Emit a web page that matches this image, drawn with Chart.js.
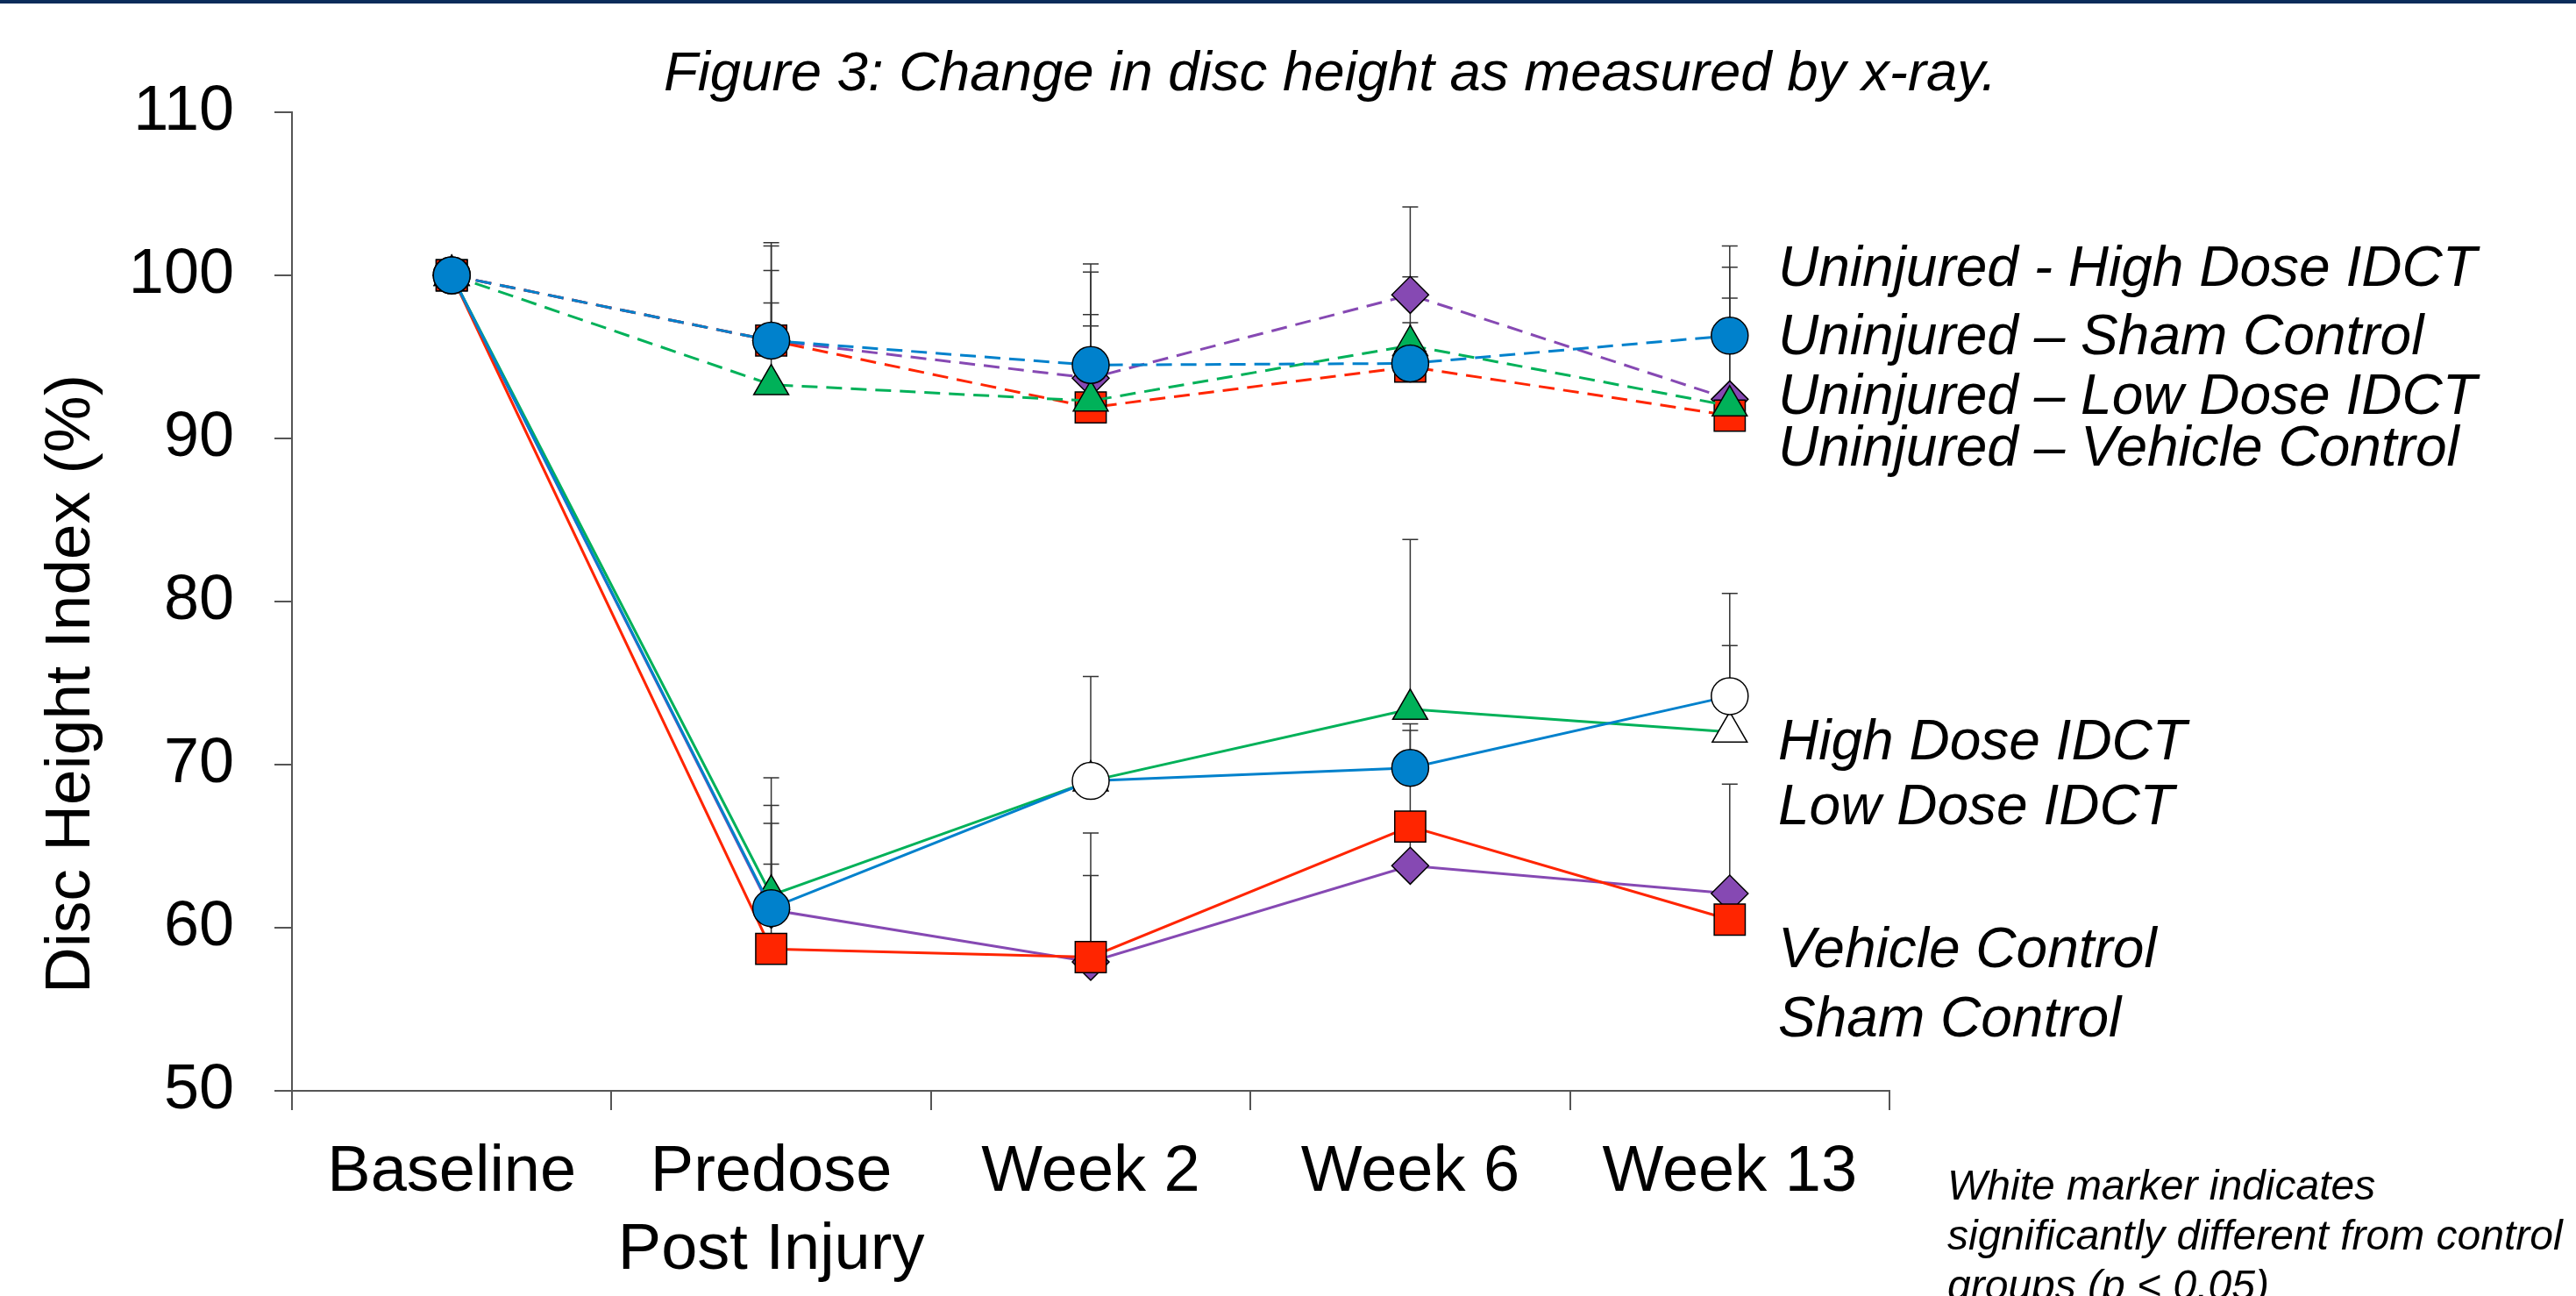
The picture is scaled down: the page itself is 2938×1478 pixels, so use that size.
<!DOCTYPE html>
<html>
<head>
<meta charset="utf-8">
<script src="https://cdn.jsdelivr.net/npm/chart.js@4.4.1/dist/chart.umd.min.js"></script>
<style>
  html, body { margin: 0; padding: 0; background: #fff; }
  #wrap { width: 2938px; height: 1478px; position: relative; }
</style>
</head>
<body>
<div id="wrap"><canvas id="myChart"></canvas></div>
<script>
// categories on the x axis
const categories = ['Baseline', ['Predose', 'Post Injury'], 'Week 2', 'Week 6', 'Week 13'];
const yMin = 50;
const yMax = 110;
const yStep = 10;

// uninjured groups (dashed)
const uninjuredHigh = [100, 96.0, 94.5, 94.6, 96.3];
const uninjuredHighErr = [0, 6.0, 6.2, 5.3, 5.5];
const uninjuredLow = [100, 93.3, 92.3, 95.7, 92.0];
const uninjuredLowErr = [0, 5.0, 4.6, 1.4, 6.6];
const uninjuredVehicle = [100, 96.0, 91.9, 94.4, 91.4];
const uninjuredVehicleErr = [0, 5.8, 8.3, 1.0, 1.0];
const uninjuredSham = [100, 96.0, 93.7, 98.8, 92.4];
const uninjuredShamErr = [0, 4.3, 3.9, 5.4, 8.1];

// injured groups (solid)
const injuredHigh = [100, 61.2, 69.0, 69.8, 74.2];
const injuredHighErr = [0, 8.0, 6.4, 2.7, 6.3];
const injuredHighSig = [0, 0, 1, 0, 1];
const injuredLow = [100, 62.0, 69.0, 73.4, 72.0];
const injuredLowErr = [0, 5.5, 0.5, 10.4, 5.3];
const injuredLowSig = [0, 0, 1, 0, 1];
const injuredVehicle = [100, 58.7, 58.2, 66.2, 60.5];
const injuredVehicleErr = [0, 7.7, 7.6, 5.9, 1.5];
const injuredSham = [100, 61.1, 57.9, 63.8, 62.1];
const injuredShamErr = [0, 2.8, 5.3, 2.0, 6.7];

const titleText = 'Figure 3: Change in disc height as measured by x-ray.';
const yTitle = 'Disc Height Index (%)';
const groupLabels = [
  'Uninjured - High Dose IDCT',
  'Uninjured \u2013 Sham Control',
  'Uninjured \u2013 Low Dose IDCT',
  'Uninjured \u2013 Vehicle Control',
  'High Dose IDCT',
  'Low Dose IDCT',
  'Vehicle Control',
  'Sham Control'
];
const footNote = [
  'White marker indicates',
  'significantly different from control',
  'groups (p < 0.05)'
];

const BLUE = '#0081cc';
const GREEN = '#00b159';
const RED = '#ff2500';
const PURPLE = '#8649b3';
const FONT = '"Liberation Sans", Arial, sans-serif';

const makeSet = (label, data, errors, color, style, radius, dashed, sig) => ({
  label: label,
  data: data,
  errors: errors,
  borderColor: color,
  borderWidth: 3,
  borderDash: dashed ? [18, 10] : [],
  pointStyle: style,
  pointRadius: radius,
  pointBorderColor: '#000',
  pointBorderWidth: 1.5,
  pointBackgroundColor: sig ? sig.map(s => s ? '#fff' : color) : color,
  tension: 0,
  fill: false
});

// whiskers up from each marker, drawn under the markers
const errorBars = {
  id: 'errorBars',
  beforeDatasetsDraw(chart) {
    const ctx = chart.ctx;
    const y = chart.scales.y;
    ctx.save();
    ctx.strokeStyle = '#333';
    ctx.lineWidth = 1.5;
    chart.data.datasets.forEach((ds, i) => {
      const meta = chart.getDatasetMeta(i);
      ds.errors.forEach((e, j) => {
        if (!e) return;
        const px = meta.data[j].x;
        const y0 = y.getPixelForValue(ds.data[j]);
        const y1 = y.getPixelForValue(ds.data[j] + e);
        ctx.beginPath();
        ctx.moveTo(px, y0);
        ctx.lineTo(px, y1);
        ctx.moveTo(px - 9, y1);
        ctx.lineTo(px + 9, y1);
        ctx.stroke();
      });
    });
    ctx.restore();
  }
};

const notes = {
  id: 'notes',
  afterDraw(chart) {
    const ctx = chart.ctx;
    ctx.save();
    ctx.fillStyle = '#0b2c5a';
    ctx.fillRect(0, 0, chart.width, 4);

    ctx.fillStyle = '#000';
    ctx.textBaseline = 'alphabetic';
    ctx.textAlign = 'center';
    ctx.font = 'italic 63.5px ' + FONT;
    ctx.fillText(titleText, 1517, 103);

    ctx.textAlign = 'left';
    ctx.font = 'italic 64px ' + FONT;
    const baselines = [326, 404, 472, 531, 866, 940, 1103, 1182];
    groupLabels.forEach((t, i) => ctx.fillText(t, 2028, baselines[i]));

    ctx.font = 'italic 48px ' + FONT;
    footNote.forEach((t, i) => ctx.fillText(t, 2221, 1368 + i * 57));

    ctx.translate(82, 780);
    ctx.rotate(-Math.PI / 2);
    ctx.textAlign = 'center';
    ctx.textBaseline = 'middle';
    ctx.font = '73px ' + FONT;
    ctx.fillText(yTitle, 0, 0);
    ctx.restore();
  }
};

new Chart(document.getElementById('myChart'), {
  type: 'line',
  data: {
    labels: categories,
    datasets: [
      makeSet('High Dose IDCT', injuredHigh, injuredHighErr, BLUE, 'circle', 21, false, injuredHighSig),
      makeSet('Uninjured - High Dose IDCT', uninjuredHigh, uninjuredHighErr, BLUE, 'circle', 21, true),
      makeSet('Low Dose IDCT', injuredLow, injuredLowErr, GREEN, 'triangle', 23, false, injuredLowSig),
      makeSet('Uninjured - Low Dose IDCT', uninjuredLow, uninjuredLowErr, GREEN, 'triangle', 23, true),
      makeSet('Vehicle Control', injuredVehicle, injuredVehicleErr, RED, 'rect', 25, false),
      makeSet('Uninjured - Vehicle Control', uninjuredVehicle, uninjuredVehicleErr, RED, 'rect', 25, true),
      makeSet('Sham Control', injuredSham, injuredShamErr, PURPLE, 'rectRot', 21, false),
      makeSet('Uninjured - Sham Control', uninjuredSham, uninjuredShamErr, PURPLE, 'rectRot', 21, true)
    ]
  },
  options: {
    responsive: true,
    maintainAspectRatio: false,
    devicePixelRatio: 1,
    animation: false,
    layout: { padding: { top: 128, right: 783, bottom: 0, left: 0 } },
    plugins: {
      legend: { display: false },
      tooltip: { enabled: false },
      title: { display: false }
    },
    scales: {
      x: {
        offset: true,
        grid: { offset: true, drawOnChartArea: false, tickLength: 22, color: '#555', lineWidth: 2 },
        border: { color: '#555', width: 2 },
        ticks: {
          color: '#000',
          font: { family: FONT, size: 74, lineHeight: 1.2 },
          padding: 27,
          maxRotation: 0,
          autoSkip: false
        },
        afterFit(s) { s.height = 234; }
      },
      y: {
        min: yMin,
        max: yMax,
        grid: { drawOnChartArea: false, tickLength: 20, color: '#555', lineWidth: 2 },
        border: { color: '#555', width: 2 },
        ticks: {
          stepSize: yStep,
          color: '#000',
          font: { family: FONT, size: 72 },
          padding: 46
        },
        afterFit(s) { s.width = 333; }
      }
    }
  },
  plugins: [errorBars, notes]
});
</script>
</body>
</html>
